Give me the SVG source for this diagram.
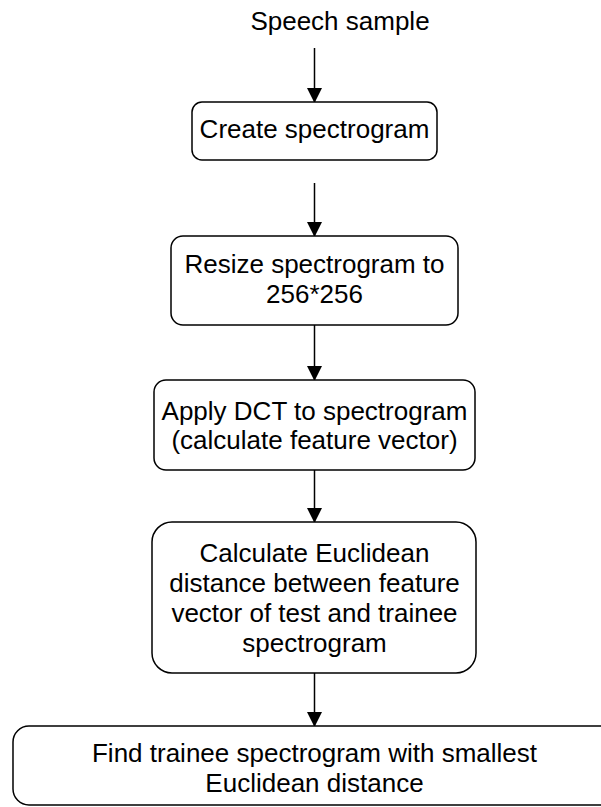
<svg xmlns="http://www.w3.org/2000/svg" width="601" height="807" viewBox="0 0 601 807">
<defs>
<style>
.box{fill:#fff;stroke:#000;stroke-width:1.5}
.t{font-family:"Liberation Sans",Arial,sans-serif;font-size:26px;fill:#000;text-anchor:middle}
.c{stroke:#000;stroke-width:1.5;fill:none}
</style>
<marker id="ah" markerWidth="16" markerHeight="16" refX="14" refY="8" orient="auto" markerUnits="userSpaceOnUse">
<path d="M0,0.5 L15,8 L0,15.5 Z" fill="#000"/>
</marker>
</defs>
<rect width="601" height="807" fill="#fff"/>
<g id="connectors">
<line class="c" x1="314.5" y1="48" x2="314.5" y2="102" marker-end="url(#ah)"/>
<line class="c" x1="314.5" y1="183" x2="314.5" y2="236" marker-end="url(#ah)"/>
<line class="c" x1="314.5" y1="325" x2="314.5" y2="380" marker-end="url(#ah)"/>
<line class="c" x1="314.5" y1="470" x2="314.5" y2="522" marker-end="url(#ah)"/>
<line class="c" x1="314.5" y1="673" x2="314.5" y2="726" marker-end="url(#ah)"/>
</g>
<g id="start">
<text class="t" x="340" y="30">Speech sample</text>
</g>
<g id="n1">
<rect class="box" x="192" y="102" width="245" height="58" rx="10"/>
<text class="t" x="314.5" y="138">Create spectrogram</text>
</g>
<g id="n2">
<rect class="box" x="171" y="236" width="287" height="89" rx="12"/>
<text class="t" x="314.5" y="273">Resize spectrogram to</text>
<text class="t" x="314.5" y="303">256*256</text>
</g>
<g id="n3">
<rect class="box" x="154" y="380" width="321" height="90" rx="12"/>
<text class="t" x="314.5" y="420">Apply DCT to spectrogram</text>
<text class="t" x="314.5" y="449">(calculate feature vector)</text>
</g>
<g id="n4">
<rect class="box" x="152" y="522" width="324" height="151" rx="20"/>
<text class="t" x="314.5" y="562">Calculate Euclidean</text>
<text class="t" x="314.5" y="592">distance between feature</text>
<text class="t" x="314.5" y="622">vector of test and trainee</text>
<text class="t" x="314.5" y="652">spectrogram</text>
</g>
<g id="n5">
<rect class="box" x="13" y="726" width="604" height="79" rx="16"/>
<text class="t" x="314.5" y="762">Find trainee spectrogram with smallest</text>
<text class="t" x="314.5" y="792">Euclidean distance</text>
</g>
</svg>
